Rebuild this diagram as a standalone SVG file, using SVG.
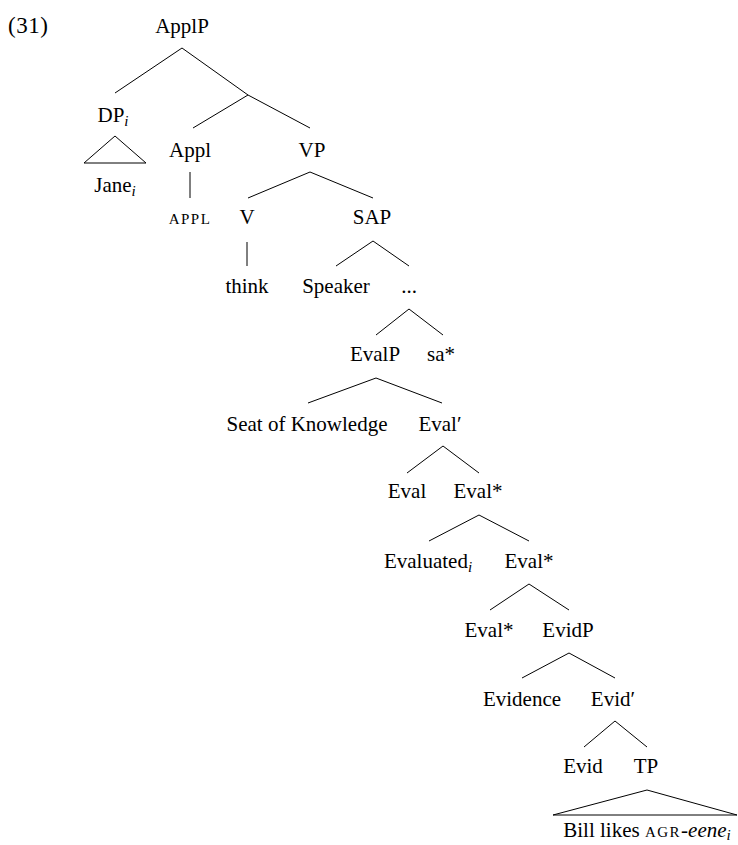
<svg xmlns="http://www.w3.org/2000/svg" width="738" height="845" viewBox="0 0 738 845">
<style>
text{font-family:"Liberation Serif","Times New Roman",serif;font-size:21px;fill:#000;text-anchor:middle}
.sub{font-size:15px;font-style:italic}
.sc{font-size:15px;letter-spacing:1.5px}
.it{font-style:italic}
#edges line,#edges polygon{stroke:#000;stroke-width:1;fill:none}
</style>
<rect width="738" height="845" fill="#fff"/>
<text x="8" y="33" style="text-anchor:start;font-size:23px;letter-spacing:0.5px">(31)</text>
<g id="edges">
<line x1="182" y1="48" x2="115" y2="93"/>
<line x1="182" y1="48" x2="248" y2="95"/>
<line x1="248" y1="95" x2="310" y2="128"/>
<line x1="248" y1="95" x2="193" y2="128"/>
<polygon points="115,136 84,163 146,163"/>
<line x1="190" y1="172" x2="190" y2="198"/>
<line x1="310" y1="172" x2="248" y2="198"/>
<line x1="310" y1="172" x2="373" y2="198"/>
<line x1="247" y1="242" x2="247" y2="266"/>
<line x1="373" y1="241" x2="336" y2="266"/>
<line x1="373" y1="241" x2="409" y2="266"/>
<line x1="409" y1="309" x2="376" y2="335"/>
<line x1="409" y1="309" x2="443" y2="335"/>
<line x1="376" y1="378" x2="308" y2="403"/>
<line x1="376" y1="378" x2="442" y2="403"/>
<line x1="443" y1="446" x2="407" y2="473"/>
<line x1="443" y1="446" x2="479" y2="473"/>
<line x1="479" y1="515" x2="429" y2="541"/>
<line x1="479" y1="515" x2="529" y2="541"/>
<line x1="529" y1="584" x2="490" y2="610"/>
<line x1="529" y1="584" x2="569" y2="610"/>
<line x1="569" y1="653" x2="522" y2="678"/>
<line x1="569" y1="653" x2="615" y2="678"/>
<line x1="615" y1="721" x2="584" y2="747"/>
<line x1="615" y1="721" x2="647" y2="747"/>
<polygon points="647,790 553,815 737,815"/>
</g>
<g id="n-applp"><text x="182" y="33">ApplP</text></g>
<g id="n-dp"><text x="113" y="122">DP<tspan class="sub" dy="4">i</tspan></text></g>
<g id="n-jane"><text x="115" y="192">Jane<tspan class="sub" dy="4">i</tspan></text></g>
<g id="n-appl"><text x="190" y="157">Appl</text></g>
<g id="n-appl-sc"><text x="190" y="224" class="sc">APPL</text></g>
<g id="n-vp"><text x="312" y="157">VP</text></g>
<g id="n-v"><text x="247" y="224">V</text></g>
<g id="n-sap"><text x="372" y="224">SAP</text></g>
<g id="n-think"><text x="247" y="293">think</text></g>
<g id="n-speaker"><text x="336" y="293">Speaker</text></g>
<g id="n-dots"><text x="409" y="293">...</text></g>
<g id="n-evalp"><text x="375" y="361">EvalP</text></g>
<g id="n-sa"><text x="441" y="361">sa*</text></g>
<g id="n-seat"><text x="307" y="431">Seat of Knowledge</text></g>
<g id="n-evalbar"><text x="440" y="431">Eval′</text></g>
<g id="n-eval"><text x="407" y="498">Eval</text></g>
<g id="n-evalstar1"><text x="478" y="498">Eval*</text></g>
<g id="n-evaluated"><text x="428" y="568">Evaluated<tspan class="sub" dy="4">i</tspan></text></g>
<g id="n-evalstar2"><text x="529" y="568">Eval*</text></g>
<g id="n-evalstar3"><text x="489" y="637">Eval*</text></g>
<g id="n-evidp"><text x="568" y="637">EvidP</text></g>
<g id="n-evidence"><text x="522" y="706">Evidence</text></g>
<g id="n-evidbar"><text x="613" y="706">Evid′</text></g>
<g id="n-evid"><text x="583" y="773">Evid</text></g>
<g id="n-tp"><text x="646" y="773">TP</text></g>
<g id="n-bill"><text x="647" y="837">Bill likes <tspan class="sc">AGR</tspan>-<tspan class="it">eene</tspan><tspan class="sub" dy="3">i</tspan></text></g>
</svg>
